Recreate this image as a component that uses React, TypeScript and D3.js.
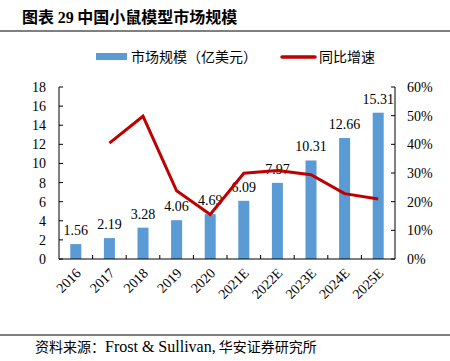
import React from "react";
import * as d3 from "d3";

const categories = ["2016", "2017", "2018", "2019", "2020", "2021E", "2022E", "2023E", "2024E", "2025E"];
const marketSize = [1.56, 2.19, 3.28, 4.06, 4.69, 6.09, 7.97, 10.31, 12.66, 15.31];
const growth: (number | null)[] = [null, 40.4, 49.8, 23.8, 15.5, 29.9, 30.9, 29.4, 22.8, 20.9];
const leftTicks = [0, 2, 4, 6, 8, 10, 12, 14, 16, 18];
const rightTicks = [0, 10, 20, 30, 40, 50, 60];

const W = 450, H = 361;
const left = 59, right = 395, top = 87, bottom = 259;
const serif = "'Liberation Serif', 'Times New Roman', serif";
const cjk = "'Noto Sans CJK SC', sans-serif";

export default function App() {
  const x = d3.scaleBand<string>().domain(categories).range([left, right]);
  const yL = d3.scaleLinear().domain([0, 18]).range([bottom, top]);
  const yR = d3.scaleLinear().domain([0, 60]).range([bottom, top]);
  const barW = 11;
  const pts = categories
    .map((c, i) => ({ c, v: growth[i] }))
    .filter((d) => d.v !== null) as { c: string; v: number }[];
  const line = d3
    .line<{ c: string; v: number }>()
    .x((d) => (x(d.c) as number) + x.bandwidth() / 2)
    .y((d) => yR(d.v));

  return (
    <svg width={W} height={H} style={{ position: "absolute", left: 0, top: 0, background: "#fff" }}>
      <rect width={W} height={H} fill="#fff" />
      <text x={22} y={23} fontFamily={cjk} fontWeight="bold" fontSize={16} fill="#000">
        图表 <tspan fontFamily={serif}>29</tspan> 中国小鼠模型市场规模
      </text>
      <line x1={0} x2={W} y1={31} y2={31} stroke="#000" strokeWidth={1} />
      {/* legend */}
      <rect x={96} y={53} width={31} height={7} fill="#5B9BD5" />
      <text x={131} y={62} fontFamily={cjk} fontSize={14} fill="#000">市场规模（亿美元）</text>
      <line x1={282} x2={315} y1={57} y2={57} stroke="#C00000" strokeWidth={3.5} strokeLinecap="round" />
      <text x={319} y={62} fontFamily={cjk} fontSize={14} fill="#000">同比增速</text>

      {/* bars */}
      {categories.map((c, i) => {
        const cx = (x(c) as number) + x.bandwidth() / 2;
        return (
          <g key={c}>
            <rect x={cx - barW / 2} y={yL(marketSize[i])} width={barW} height={bottom - yL(marketSize[i])} fill="#5B9BD5" />
            <text x={cx} y={yL(marketSize[i]) - 9} textAnchor="middle" fontFamily={serif} fontSize={14} fill="#000">
              {marketSize[i].toFixed(2)}
            </text>
          </g>
        );
      })}

      <path d={line(pts) || ""} fill="none" stroke="#C00000" strokeWidth={3} strokeLinejoin="miter" />

      {/* axes */}
      <line x1={left} x2={left} y1={top} y2={bottom} stroke="#000" />
      <line x1={right} x2={right} y1={top} y2={bottom} stroke="#000" />
      <line x1={left} x2={right} y1={bottom} y2={bottom} stroke="#000" />
      {leftTicks.map((t) => (
        <g key={"l" + t}>
          <line x1={left} x2={left + 4} y1={yL(t)} y2={yL(t)} stroke="#000" />
          <text x={left - 13} y={yL(t) + 5} textAnchor="end" fontFamily={serif} fontSize={14} fill="#000">{t}</text>
        </g>
      ))}
      {rightTicks.map((t) => (
        <g key={"r" + t}>
          <line x1={right - 4} x2={right} y1={yR(t)} y2={yR(t)} stroke="#000" />
          <text x={right + 12} y={yR(t) + 5} textAnchor="start" fontFamily={serif} fontSize={14} fill="#000">{t}%</text>
        </g>
      ))}
      {categories.map((c, i) => {
        const bx = x(c) as number;
        const cx = bx + x.bandwidth() / 2;
        return (
          <g key={"x" + c}>
            {i > 0 && <line x1={bx} x2={bx} y1={bottom} y2={bottom - 4} stroke="#000" />}
            <text
              transform={`translate(${cx + 6},${bottom + 15}) rotate(-45)`}
              textAnchor="end"
              fontFamily={serif}
              fontSize={14}
              fill="#000"
            >
              {c}
            </text>
          </g>
        );
      })}

      <line x1={0} x2={W} y1={335} y2={335} stroke="#000" strokeWidth={1} />
      <text x={35} y={352} fontFamily={cjk} fontSize={14} fill="#000">
        资料来源：<tspan fontFamily={serif} fontSize={16}>Frost &amp; Sullivan,</tspan> 华安证券研究所
      </text>
    </svg>
  );
}
